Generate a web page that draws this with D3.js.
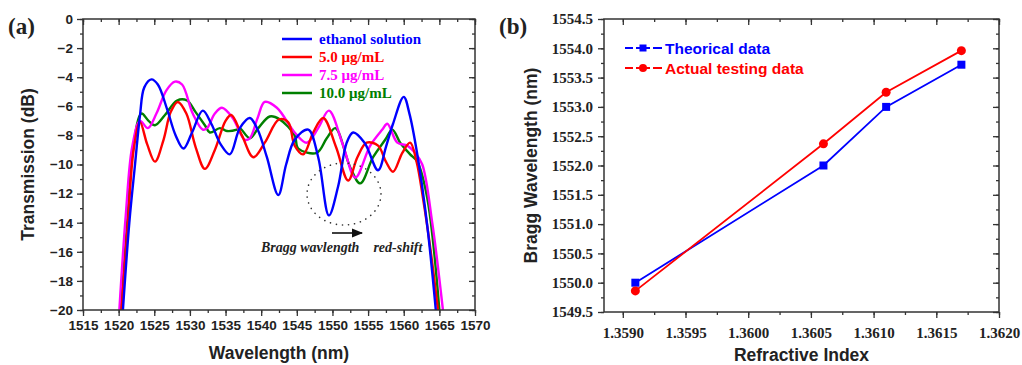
<!DOCTYPE html>
<html>
<head>
<meta charset="utf-8">
<script src="https://cdn.jsdelivr.net/npm/d3@7"></script>
<style>
  body { margin: 0; background: #fff; }
  svg { display: block; }
</style>
</head>
<body>
<div id="chart"></div>
<script>
// ---- data, panel (a): transmission spectra ----
const ethanolNm = [1520.6, 1521.5, 1522.3, 1523.0, 1523.6, 1524.6, 1525.5, 1526.8, 1528.0, 1529.1, 1530.3, 1531.8, 1533.0, 1534.3, 1535.6, 1537.0, 1538.4, 1539.5, 1540.8, 1542.4, 1543.5, 1544.7, 1546.6, 1548.0, 1549.5, 1550.8, 1552.0, 1552.9, 1554.5, 1556.4, 1557.5, 1558.5, 1560.0, 1560.8, 1561.9, 1563.3, 1564.5];
const ethanolDb = [-20, -14, -10, -6.6, -4.7, -4.15, -4.5, -6.2, -8.0, -8.9, -7.8, -6.3, -7.2, -8.6, -9.3, -7.5, -6.8, -7.6, -9.5, -12.1, -10.0, -8.3, -7.6, -9.5, -13.5, -11.5, -8.5, -7.8, -8.5, -10.4, -8.8, -7.2, -5.35, -6.5, -9.3, -14.2, -20];

const c50Nm = [1520.4, 1521.3, 1522.1, 1523.0, 1524.0, 1525.1, 1526.3, 1527.3, 1528.3, 1529.5, 1530.8, 1532.1, 1533.5, 1535.0, 1535.8, 1537.3, 1538.9, 1540.5, 1542.5, 1543.8, 1544.7, 1545.9, 1547.3, 1548.7, 1550.5, 1552.2, 1553.5, 1554.8, 1556.4, 1557.5, 1558.5, 1559.8, 1560.9, 1561.8, 1562.7, 1563.8, 1564.8];
const c50Db = [-20, -14, -9.0, -7.1, -8.6, -9.8, -8.3, -6.4, -5.7, -6.5, -8.8, -10.3, -9.0, -7.0, -6.6, -8.0, -9.5, -8.5, -6.9, -7.1, -8.7, -9.3, -7.8, -6.8, -8.8, -11.1, -9.5, -8.5, -8.7, -9.8, -10.5, -9.2, -8.5, -9.8, -12.3, -16, -20];

const c75Nm = [1520.1, 1521.0, 1521.9, 1523.0, 1524.1, 1525.3, 1526.7, 1527.9, 1528.9, 1530.4, 1531.8, 1532.4, 1533.5, 1534.5, 1536.0, 1537.7, 1538.4, 1539.5, 1540.5, 1542.2, 1544.7, 1546.4, 1548.0, 1549.5, 1551.5, 1553.2, 1555.3, 1557.0, 1557.7, 1559.1, 1560.5, 1561.6, 1562.6, 1564.0, 1565.5];
const c75Db = [-20, -13.5, -8.8, -7.0, -7.5, -6.5, -4.9, -4.3, -4.5, -6.5, -7.6, -7.5, -6.5, -6.1, -6.8, -8.3, -8.2, -6.8, -5.7, -6.1, -7.8, -8.5, -7.5, -6.3, -8.7, -10.9, -8.7, -7.6, -7.2, -8.5, -8.7, -9.2, -10.0, -14, -20];

const c100Nm = [1520.3, 1521.2, 1522.0, 1523.2, 1524.2, 1525.1, 1526.5, 1528.2, 1529.6, 1530.8, 1532.1, 1532.8, 1534.2, 1535.2, 1536.6, 1537.0, 1538.4, 1539.6, 1541.2, 1542.6, 1544.7, 1545.2, 1547.8, 1549.2, 1550.4, 1552.5, 1553.9, 1555.7, 1557.4, 1558.4, 1559.5, 1560.9, 1561.9, 1563.3, 1565.0];
const c100Db = [-20, -14, -9.0, -6.5, -7.0, -7.3, -6.6, -5.6, -5.6, -6.4, -7.3, -7.8, -7.5, -7.7, -7.6, -7.5, -8.2, -7.5, -6.7, -6.9, -8.0, -8.9, -9.2, -8.2, -7.5, -10.2, -11.3, -9.5, -8.3, -7.6, -8.5, -9.3, -9.8, -12.3, -20];

const spectraNames = ["ethanol solution", "5.0 \u03bcg/mL", "7.5 \u03bcg/mL", "10.0 \u03bcg/mL"];
const spectraColors = ["#0000ff", "#ff0000", "#ff00ff", "#008000"];

const nmTicks = [1515, 1520, 1525, 1530, 1535, 1540, 1545, 1550, 1555, 1560, 1565, 1570];
const dbTicks = [0, -2, -4, -6, -8, -10, -12, -14, -16, -18, -20];

// ---- data, panel (b): Bragg wavelength vs refractive index ----
const refIndex = [1.3591, 1.3606, 1.3611, 1.3617];
const theoryNm = [1550.0, 1552.0, 1553.0, 1553.72];
const actualNm = [1549.86, 1552.37, 1553.25, 1553.96];
const braggNames = ["Theorical data", "Actual testing data"];
const braggColors = ["#0000ff", "#ff0000"];

const riTicks = [1.3590, 1.3595, 1.3600, 1.3605, 1.3610, 1.3615, 1.3620];
const braggTicks = [1549.5, 1550.0, 1550.5, 1551.0, 1551.5, 1552.0, 1552.5, 1553.0, 1553.5, 1554.0, 1554.5];

const serif = "'Liberation Serif', 'Times New Roman', serif";
const sans = "'Liberation Sans', Arial, sans-serif";
const frameColor = "#333";

const svg = d3.select("#chart")
  .append("svg")
  .attr("width", 1022)
  .attr("height", 365);

// small helper for frame ticks (minor, in or out)
function drawFrame(g, w, h, x, y, xMinor, yMinor) {
  // bottom axis, outward ticks
  g.append("g")
    .attr("transform", `translate(0,${h})`)
    .call(d3.axisBottom(x).tickValues(xMinor).tickSize(3).tickFormat(""));
  // left
  g.append("g")
    .call(d3.axisLeft(y).tickValues(yMinor).tickSize(3).tickFormat(""));
  // top, inward
  g.append("g")
    .call(d3.axisTop(x).tickValues(xMinor).tickSize(-3).tickFormat(""));
  // right, inward
  g.append("g")
    .attr("transform", `translate(${w},0)`)
    .call(d3.axisRight(y).tickValues(yMinor).tickSize(-3).tickFormat(""));
  g.selectAll(".domain").remove();
  g.selectAll(".tick line").attr("stroke", frameColor).attr("stroke-width", 1.3);
}

// ================= panel (a) =================
const mA = { left: 83, top: 19, right: 475, bottom: 310 };
const wA = mA.right - mA.left, hA = mA.bottom - mA.top;
const gA = svg.append("g").attr("transform", `translate(${mA.left},${mA.top})`);

const xA = d3.scaleLinear().domain([1515, 1570]).range([0, wA]);
const yA = d3.scaleLinear().domain([-20, 0]).range([hA, 0]);

svg.append("defs").append("clipPath").attr("id", "clipA")
  .append("rect").attr("width", wA).attr("height", hA);

const nmMinor = d3.range(1515, 1570.1, 2.5);
const dbMinor = d3.range(-20, 0.1, 1);
drawFrame(gA, wA, hA, xA, yA, nmMinor, dbMinor);

// major ticks
gA.append("g").attr("transform", `translate(0,${hA})`)
  .call(d3.axisBottom(xA).tickValues(nmTicks).tickSize(6).tickPadding(4).tickFormat(d3.format("d")))
  .call(a => a.select(".domain").remove());
gA.append("g")
  .call(d3.axisLeft(yA).tickValues(dbTicks).tickSize(6).tickPadding(4).tickFormat(d3.format("d")))
  .call(a => a.select(".domain").remove());
gA.append("g")
  .call(d3.axisTop(xA).tickValues(nmTicks).tickSize(-6).tickFormat(""))
  .call(a => a.select(".domain").remove());
gA.append("g").attr("transform", `translate(${wA},0)`)
  .call(d3.axisRight(yA).tickValues(dbTicks).tickSize(-6).tickFormat(""))
  .call(a => a.select(".domain").remove());
gA.selectAll(".tick line").attr("stroke", frameColor).attr("stroke-width", 1.3);
gA.selectAll(".tick text")
  .attr("font-family", sans).attr("font-weight", "bold").attr("font-size", 13.5).attr("fill", "#222");

const spectra = [
  d3.zip(ethanolNm, ethanolDb),
  d3.zip(c50Nm, c50Db),
  d3.zip(c75Nm, c75Db),
  d3.zip(c100Nm, c100Db)
];

const lineA = d3.line()
  .x(d => xA(d[0]))
  .y(d => yA(d[1]))
  .curve(d3.curveCatmullRom.alpha(0.5));

// draw green first, blue on top-ish like the original
const drawOrder = [3, 2, 1, 0];
gA.append("g").attr("clip-path", "url(#clipA)")
  .selectAll("path")
  .data(drawOrder)
  .enter()
  .append("path")
  .attr("d", i => lineA(spectra[i]))
  .attr("fill", "none")
  .attr("stroke", i => spectraColors[i])
  .attr("stroke-width", 2.4);

gA.append("rect").attr("width", wA).attr("height", hA)
  .attr("fill", "none").attr("stroke", frameColor).attr("stroke-width", 1.5);

// legend (a)
const legA = gA.append("g").attr("transform", `translate(${282 - mA.left},${39 - mA.top})`);
spectraNames.forEach((name, i) => {
  const row = legA.append("g").attr("transform", `translate(0,${i * 18})`);
  row.append("line").attr("x1", 0).attr("x2", 30).attr("y1", 0).attr("y2", 0)
    .attr("stroke", spectraColors[i]).attr("stroke-width", 2.5);
  row.append("text").attr("x", 37).attr("y", 5)
    .attr("font-family", serif).attr("font-weight", "bold").attr("font-size", 15)
    .attr("fill", spectraColors[i]).text(name);
});

// annotation: dotted circle, arrow, label
gA.append("ellipse")
  .attr("cx", 344 - mA.left).attr("cy", 194 - mA.top).attr("rx", 37).attr("ry", 31)
  .attr("fill", "none").attr("stroke", "#333").attr("stroke-width", 1.6)
  .attr("stroke-dasharray", "0.1 6").attr("stroke-linecap", "round");
svg.append("defs").append("marker")
  .attr("id", "arrow").attr("viewBox", "0 0 10 10").attr("refX", 9).attr("refY", 5)
  .attr("markerWidth", 7).attr("markerHeight", 7).attr("orient", "auto")
  .append("path").attr("d", "M0,1 L10,5 L0,9 Z").attr("fill", "#111");
gA.append("line")
  .attr("x1", 332 - mA.left).attr("x2", 362 - mA.left)
  .attr("y1", 233 - mA.top).attr("y2", 233 - mA.top)
  .attr("stroke", "#111").attr("stroke-width", 1.6).attr("marker-end", "url(#arrow)");
gA.append("text").attr("x", 261 - mA.left).attr("y", 252 - mA.top)
  .attr("font-family", serif).attr("font-weight", "bold").attr("font-style", "italic")
  .attr("font-size", 14).attr("fill", "#222")
  .attr("xml:space", "preserve")
  .text("Bragg wavlength    red-shift");

// axis titles (a)
svg.append("text")
  .attr("transform", `translate(34,${mA.top + hA / 2}) rotate(-90)`)
  .attr("text-anchor", "middle")
  .attr("font-family", sans).attr("font-weight", "bold").attr("font-size", 17.5).attr("fill", "#222")
  .text("Transmission (dB)");
svg.append("text")
  .attr("x", mA.left + wA / 2).attr("y", 359)
  .attr("text-anchor", "middle")
  .attr("font-family", sans).attr("font-weight", "bold").attr("font-size", 17.5).attr("fill", "#222")
  .text("Wavelength (nm)");
svg.append("text").attr("x", 8).attr("y", 34)
  .attr("font-family", serif).attr("font-weight", "bold").attr("font-size", 23).attr("fill", "#222")
  .text("(a)");

// ================= panel (b) =================
const mB = { left: 604, top: 19, right: 999, bottom: 312 };
const wB = mB.right - mB.left, hB = mB.bottom - mB.top;
const gB = svg.append("g").attr("transform", `translate(${mB.left},${mB.top})`);

const xB = d3.scaleLinear().domain([1.35885, 1.3620]).range([0, wB]);
const yB = d3.scaleLinear().domain([1549.5, 1554.5]).range([hB, 0]);

const riMinor = d3.range(0, 13).map(i => 1.3590 + i * 0.00025);
const braggMinor = d3.range(0, 21).map(i => 1549.5 + i * 0.25);
drawFrame(gB, wB, hB, xB, yB, riMinor, braggMinor);

gB.append("g").attr("transform", `translate(0,${hB})`)
  .call(d3.axisBottom(xB).tickValues(riTicks).tickSize(6).tickPadding(9).tickFormat(d3.format(".4f")))
  .call(a => a.select(".domain").remove());
gB.append("g")
  .call(d3.axisLeft(yB).tickValues(braggTicks).tickSize(6).tickPadding(5).tickFormat(d3.format(".1f")))
  .call(a => a.select(".domain").remove());
gB.append("g")
  .call(d3.axisTop(xB).tickValues(riTicks).tickSize(-6).tickFormat(""))
  .call(a => a.select(".domain").remove());
gB.append("g").attr("transform", `translate(${wB},0)`)
  .call(d3.axisRight(yB).tickValues(braggTicks).tickSize(-6).tickFormat(""))
  .call(a => a.select(".domain").remove());
gB.selectAll(".tick line").attr("stroke", frameColor).attr("stroke-width", 1.3);
gB.selectAll(".tick text")
  .attr("font-family", serif).attr("font-weight", "bold").attr("font-size", 15).attr("fill", "#222");

const braggSeries = [d3.zip(refIndex, theoryNm), d3.zip(refIndex, actualNm)];
const lineB = d3.line().x(d => xB(d[0])).y(d => yB(d[1]));

braggSeries.forEach((s, i) => {
  gB.append("path").attr("d", lineB(s))
    .attr("fill", "none").attr("stroke", braggColors[i]).attr("stroke-width", 1.8);
});
// markers: squares for theory, circles for actual
gB.selectAll("rect.sq").data(braggSeries[0]).enter().append("rect")
  .attr("class", "sq")
  .attr("x", d => xB(d[0]) - 4).attr("y", d => yB(d[1]) - 4)
  .attr("width", 8).attr("height", 8).attr("fill", braggColors[0]);
gB.selectAll("circle").data(braggSeries[1]).enter().append("circle")
  .attr("cx", d => xB(d[0])).attr("cy", d => yB(d[1])).attr("r", 4.5)
  .attr("fill", braggColors[1]);

gB.append("rect").attr("width", wB).attr("height", hB)
  .attr("fill", "none").attr("stroke", frameColor).attr("stroke-width", 1.5);

// legend (b)
const legB = gB.append("g").attr("transform", `translate(${625 - mB.left},${48 - mB.top})`);
braggNames.forEach((name, i) => {
  const row = legB.append("g").attr("transform", `translate(0,${i * 20})`);
  row.append("line").attr("x1", 0).attr("x2", 37).attr("y1", 0).attr("y2", 0)
    .attr("stroke", braggColors[i]).attr("stroke-width", 1.8);
  if (i === 0) {
    row.append("rect").attr("x", 14.5).attr("y", -3.5).attr("width", 7).attr("height", 7)
      .attr("fill", braggColors[i]);
  } else {
    row.append("circle").attr("cx", 18).attr("cy", 0).attr("r", 4).attr("fill", braggColors[i]);
  }
  row.append("rect").attr("x", 8).attr("y", -2).attr("width", 3).attr("height", 4).attr("fill", "#fff");
  row.append("rect").attr("x", 25).attr("y", -2).attr("width", 3).attr("height", 4).attr("fill", "#fff");
  row.append("text").attr("x", 40).attr("y", 5.5)
    .attr("font-family", sans).attr("font-weight", "bold").attr("font-size", 15.5)
    .attr("fill", braggColors[i]).text(name);
});

svg.append("text")
  .attr("transform", `translate(537,${mB.top + hB / 2}) rotate(-90)`)
  .attr("text-anchor", "middle")
  .attr("font-family", sans).attr("font-weight", "bold").attr("font-size", 17.5).attr("fill", "#222")
  .text("Bragg Wavelength (nm)");
svg.append("text")
  .attr("x", mB.left + wB / 2).attr("y", 361)
  .attr("text-anchor", "middle")
  .attr("font-family", sans).attr("font-weight", "bold").attr("font-size", 17.5).attr("fill", "#222")
  .text("Refractive Index");
svg.append("text").attr("x", 499).attr("y", 34)
  .attr("font-family", serif).attr("font-weight", "bold").attr("font-size", 23).attr("fill", "#222")
  .text("(b)");
</script>
</body>
</html>
